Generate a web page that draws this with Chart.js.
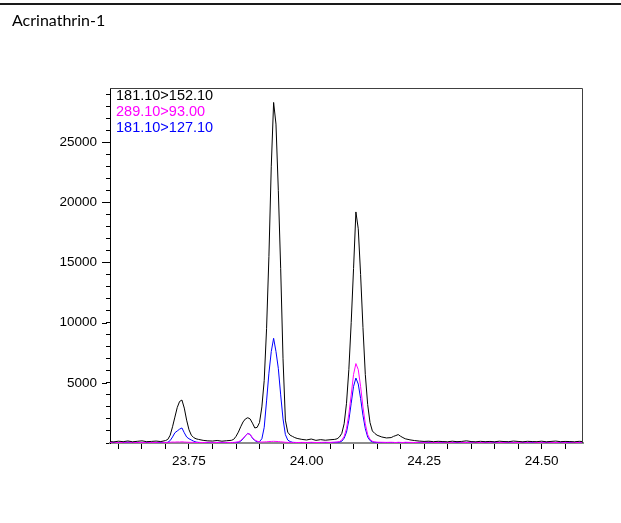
<!DOCTYPE html>
<html>
<head>
<meta charset="utf-8">
<title>Acrinathrin-1</title>
<script src="https://cdn.jsdelivr.net/npm/chart.js@4.4.1/dist/chart.umd.min.js"></script>
<style>
  html, body { margin: 0; padding: 0; background: #fff; }
  canvas { display: block; }
</style>
</head>
<body>
<canvas id="chrom" width="621" height="523"></canvas>
<script>
// retention times (min)
const times = [
  23.582, 23.59, 23.60, 23.61, 23.62, 23.63, 23.64, 23.65, 23.66, 23.67, 23.68, 23.69, 23.70,
  23.705, 23.71, 23.715, 23.72, 23.725, 23.73, 23.735, 23.74, 23.745, 23.75, 23.755, 23.76, 23.765, 23.77,
  23.78, 23.79, 23.80, 23.81, 23.82, 23.83, 23.84,
  23.845, 23.85, 23.855, 23.86, 23.865, 23.87, 23.875, 23.88, 23.885, 23.89, 23.895, 23.90, 23.905, 23.91,
  23.915, 23.92, 23.925, 23.93, 23.935, 23.94, 23.945, 23.95, 23.955, 23.96, 23.965, 23.97, 23.975, 23.98,
  23.99, 24.00, 24.01, 24.02, 24.03, 24.04, 24.05, 24.06,
  24.065, 24.07, 24.075, 24.08, 24.085, 24.09, 24.095, 24.10, 24.105, 24.11, 24.115, 24.12, 24.125, 24.13,
  24.135, 24.14, 24.145, 24.15,
  24.16, 24.17, 24.18, 24.185, 24.19, 24.195, 24.20, 24.205, 24.21,
  24.22, 24.23, 24.24, 24.25, 24.26, 24.27, 24.28, 24.29, 24.30, 24.31, 24.32, 24.33, 24.34, 24.35, 24.36,
  24.37, 24.38, 24.39, 24.40, 24.41, 24.42, 24.43, 24.44, 24.45, 24.46, 24.47, 24.48, 24.49, 24.50, 24.51,
  24.52, 24.53, 24.54, 24.55, 24.56, 24.57, 24.58, 24.588
];

// 181.10>152.10
const trace152 = [
  120, 90, 150, 110, 170, 100, 140, 180, 110, 130, 160, 120, 200,
  300, 650, 1350, 2150, 2950, 3450, 3570, 2900, 1900, 1100, 650, 450, 350, 300,
  220, 180, 160, 210, 150, 190, 220,
  300, 550, 900, 1350, 1750, 2000, 2100, 2000, 1650, 1250, 1300, 1700, 3000, 5200,
  9500, 15500, 23000, 28300, 26500, 21000, 14500, 7000, 1900, 900, 650, 550, 450, 380,
  300, 250, 330, 220, 280, 230, 270, 300,
  350, 500, 800, 1600, 3300, 6100, 10000, 14500, 19200, 17800, 14000, 9600, 5700, 3200,
  1700, 1000, 800, 650,
  500, 420, 450, 550, 620, 700, 560, 450, 350,
  260, 200, 160, 130, 150, 110, 140, 120, 100, 150, 110, 130, 180, 120, 100,
  140, 110, 130, 100, 150, 120, 110, 160, 130, 100, 140, 120, 110, 150, 100,
  130, 160, 110, 130, 120, 100, 140, 120
];

// 289.10>93.00
const trace93 = [
  40, 60, 30, 50, 70, 40, 50, 30, 60, 40, 50, 70, 40,
  50, 60, 80, 70, 90, 80, 100, 80, 70, 60, 50, 60, 40, 50,
  40, 60, 50, 40, 60, 50, 40,
  50, 60, 100, 200, 400, 600, 780, 720, 450, 250, 150, 100, 80, 90,
  100, 120, 130, 140, 130, 120, 100, 80, 60, 50, 60, 40, 50, 40,
  50, 40, 60, 40, 50, 60, 50, 70,
  80, 120, 250, 550, 1200, 2400, 4000, 5700, 6600, 6100, 4700, 3000, 1600, 700,
  300, 150, 90, 70,
  60, 50, 60, 50, 40, 60, 50, 40, 60,
  50, 40, 60, 50, 70, 40, 50, 60, 40, 50, 70, 50, 40, 60, 50,
  40, 60, 50, 70, 40, 50, 60, 50, 40, 60, 50, 70, 40, 50, 60,
  50, 40, 60, 50, 70, 40, 50, 60
];

// 181.10>127.10
const trace127 = [
  30, 50, 20, 40, 60, 30, 40, 20, 50, 30, 40, 50, 40,
  60, 200, 500, 850, 1000, 1150, 1250, 850, 500, 350, 250, 150, 80, 50,
  30, 40, 30, 50, 40, 30, 40,
  40, 50, 60, 150, 350, 600, 800, 700, 400, 200, 100, 120, 350, 1300,
  3500, 5800, 7600, 8700, 7600, 6200, 4000, 2000, 700, 250, 120, 60, 40, 30,
  30, 40, 20, 40, 30, 30, 40, 50,
  60, 80, 150, 400, 900, 1900, 3300, 4700, 5400, 4900, 3700, 2300, 1200, 500,
  200, 100, 60, 40,
  30, 40, 30, 40, 30, 40, 30, 30, 40,
  30, 20, 40, 30, 50, 20, 30, 40, 30, 20, 40, 30, 50, 30, 20,
  40, 30, 20, 40, 30, 50, 30, 20, 40, 30, 30, 40, 20, 30, 40,
  30, 20, 40, 30, 50, 30, 20, 30
];

const seriesNames = ['181.10>152.10', '289.10>93.00', '181.10>127.10'];
const seriesColors = ['#000000', '#ff00ff', '#0000ff'];
const seriesValues = [trace152, trace93, trace127];

// axis ticks (marks every 0.05 min / 1000 counts, labels on a subset)
const xTicks = [23.60, 23.65, 23.70, 23.75, 23.80, 23.85, 23.90, 23.95, 24.00, 24.05,
                24.10, 24.15, 24.20, 24.25, 24.30, 24.35, 24.40, 24.45, 24.50, 24.55];
const xLabelled = ['23.75', '24.00', '24.25', '24.50'];
const yTicks = [0, 1000, 2000, 3000, 4000, 5000, 6000, 7000, 8000, 9000, 10000, 11000, 12000, 13000, 14000,
                15000, 16000, 17000, 18000, 19000, 20000, 21000, 22000, 23000, 24000, 25000, 26000, 27000,
                28000, 29000];
const yLabelled = [5000, 10000, 15000, 20000, 25000];

const axisFont = { family: '"Liberation Sans", Arial, sans-serif', size: 13.5 };

const toPoints = vals => times.map((t, i) => ({ x: t, y: vals[i] }));

// header rule, plot frame, long y ticks and the trace legend
const framePlugin = {
  id: 'frame',
  beforeDraw(chart) {
    const ctx = chart.ctx;
    ctx.save();
    ctx.fillStyle = '#fff';
    ctx.fillRect(0, 0, chart.width, chart.height);
    ctx.fillStyle = '#1a1a1a';
    ctx.fillRect(0, 3, chart.width, 2);
    ctx.restore();
  },
  afterDraw(chart) {
    const { ctx, chartArea: a, scales: { y } } = chart;
    ctx.save();
    ctx.strokeStyle = '#404040';
    ctx.lineWidth = 1;
    ctx.beginPath();
    ctx.moveTo(a.left, a.top + 0.5);
    ctx.lineTo(a.right - 0.5, a.top + 0.5);
    ctx.lineTo(a.right - 0.5, a.bottom);
    ctx.stroke();

    ctx.strokeStyle = '#000';
    yLabelled.forEach(v => {
      const py = Math.round(y.getPixelForValue(v)) + 0.5;
      ctx.beginPath();
      ctx.moveTo(a.left - 8, py);
      ctx.lineTo(a.left - 3, py);
      ctx.stroke();
    });

    ctx.font = '14.5px "Liberation Sans", Arial, sans-serif';
    ctx.textBaseline = 'middle';
    ctx.textAlign = 'left';
    seriesNames.forEach((name, i) => {
      ctx.fillStyle = seriesColors[i];
      ctx.fillText(name, a.left + 6, a.top + 8 + i * 16);
    });
    ctx.restore();
  }
};

const ctx = document.getElementById('chrom').getContext('2d');

new Chart(ctx, {
  type: 'line',
  data: {
    datasets: seriesNames.map((name, i) => ({
      label: name,
      data: toPoints(seriesValues[i]),
      borderColor: seriesColors[i],
      borderWidth: 1,
      pointRadius: 0,
      tension: 0,
      fill: false
    }))
  },
  options: {
    responsive: false,
    animation: false,
    layout: { padding: { top: 0, left: 12, right: 38, bottom: 0 } },
    plugins: {
      legend: { display: false },
      tooltip: { enabled: false },
      title: {
        display: true,
        text: 'Acrinathrin-1',
        align: 'start',
        color: '#000',
        font: { family: 'Lato, "Open Sans", sans-serif', size: 16, weight: 'normal' },
        padding: { top: 11, bottom: 57.8 }
      }
    },
    scales: {
      x: {
        type: 'linear',
        min: 23.582,
        max: 24.588,
        afterBuildTicks: s => { s.ticks = xTicks.map(v => ({ value: v })); },
        afterFit: s => { s.height = 80; },
        border: { display: true, color: '#8c8c8c', width: 2 },
        grid: { drawOnChartArea: false, drawTicks: true, tickLength: 6, color: '#000' },
        ticks: {
          autoSkip: false,
          maxRotation: 0,
          padding: 4,
          color: '#000',
          font: axisFont,
          callback: v => (xLabelled.includes(v.toFixed(2)) ? v.toFixed(2) : '')
        }
      },
      y: {
        type: 'linear',
        min: 0,
        max: 29500,
        afterBuildTicks: s => { s.ticks = yTicks.map(v => ({ value: v })); },
        afterFit: s => { s.width = 98; },
        border: { display: true, color: '#000', width: 1 },
        grid: { drawOnChartArea: false, drawTicks: true, tickLength: 4, color: '#000' },
        ticks: {
          autoSkip: false,
          padding: 9,
          color: '#000',
          font: axisFont,
          callback: v => (yLabelled.includes(v) ? String(v) : '')
        }
      }
    }
  },
  plugins: [framePlugin]
});
</script>
</body>
</html>
